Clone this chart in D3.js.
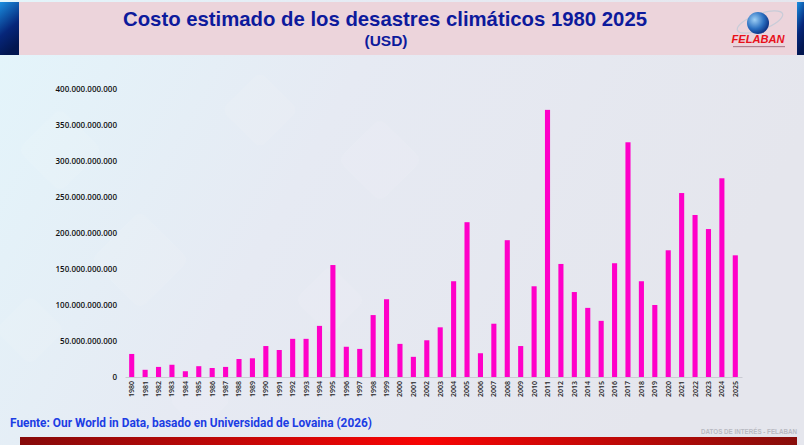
<!DOCTYPE html>
<html><head><meta charset="utf-8">
<script src="https://cdn.jsdelivr.net/npm/d3@7/dist/d3.min.js"></script>
<style>html,body{margin:0;padding:0;overflow:hidden;background:#e6e8ef}</style>
</head><body>
<svg id="c" width="804" height="445"></svg>
<script>
const years = d3.range(1980, 2026).map(String);
const costs = [32,10,14,17,8,15,12.5,14,25,26,43,37.5,53,53,71,155.5,42,39,86,108,46,28,51,69,133,215,33,74,190,43,126,371,157,118,96,78,158,326,133,100,176,255.5,225,205.5,276,169].map(v=>v*1e9);
const yTicks = [0,50e9,100e9,150e9,200e9,250e9,300e9,350e9,400e9];
const title = "Costo estimado de los desastres climáticos 1980 2025";
const subtitle = "(USD)";
const source = "Fuente: Our World in Data, basado en Universidad de Lovaina (2026)";
const footerTag = "DATOS DE INTERÉS - FELABAN";

const svg = d3.select("#c");
const defs = svg.append("defs");
const bg = defs.append("linearGradient").attr("id","bg").attr("x1","0").attr("y1","0").attr("x2","1").attr("y2","0.3");
bg.append("stop").attr("offset","0").attr("stop-color","#e3f5fb");
bg.append("stop").attr("offset","0.45").attr("stop-color","#e6eaf3");
bg.append("stop").attr("offset","1").attr("stop-color","#e5e6ed");
const red = defs.append("linearGradient").attr("id","red");
red.append("stop").attr("offset","0").attr("stop-color","#860a0a");
red.append("stop").attr("offset","0.52").attr("stop-color","#f80404");
red.append("stop").attr("offset","1").attr("stop-color","#880d0a");
const blue = defs.append("linearGradient").attr("id","blue").attr("x1","0").attr("y1","0").attr("x2","0.3").attr("y2","1");
blue.append("stop").attr("offset","0").attr("stop-color","#1a8fe0");
blue.append("stop").attr("offset","0.6").attr("stop-color","#06267a");
blue.append("stop").attr("offset","1").attr("stop-color","#021650");
const globe = defs.append("radialGradient").attr("id","globe").attr("cx","0.35").attr("cy","0.35").attr("r","0.7");
globe.append("stop").attr("offset","0").attr("stop-color","#9fd0f5");
globe.append("stop").attr("offset","0.6").attr("stop-color","#2a6fc0");
globe.append("stop").attr("offset","1").attr("stop-color","#0b2f80");

svg.append("rect").attr("width",804).attr("height",445).attr("fill","url(#bg)");
// faint diamond pattern
const diamonds = [[60,150,60],[140,260,70],[260,110,55],[30,330,50],[200,400,45],[380,160,60],[330,300,50]];
svg.selectAll("rect.dm").data(diamonds).join("rect").attr("class","dm")
  .attr("x",d=>d[0]-d[2]/2).attr("y",d=>d[1]-d[2]/2).attr("width",d=>d[2]).attr("height",d=>d[2])
  .attr("rx",8).attr("transform",d=>`rotate(45,${d[0]},${d[1]})`)
  .attr("fill","#ffffff").attr("opacity",0.08);

// header
svg.append("rect").attr("x",0).attr("y",2).attr("width",804).attr("height",53).attr("fill","#ecd4db");
svg.append("rect").attr("x",0).attr("y",2).attr("width",19).attr("height",53).attr("fill","url(#blue)");
svg.append("rect").attr("x",797).attr("y",2).attr("width",7).attr("height",53).attr("fill","url(#blue)");
svg.append("text").attr("x",385).attr("y",26).attr("text-anchor","middle")
  .attr("font-family","Liberation Sans, Arial, sans-serif").attr("font-weight","bold").attr("font-size",21)
  .attr("fill","#0d1a9c").attr("textLength",524).attr("lengthAdjust","spacingAndGlyphs").text(title);
svg.append("text").attr("x",386).attr("y",46).attr("text-anchor","middle")
  .attr("font-family","Liberation Sans, Arial, sans-serif").attr("font-weight","bold").attr("font-size",14)
  .attr("fill","#0d1a9c").attr("textLength",43).attr("lengthAdjust","spacingAndGlyphs").text(subtitle);
// logo
const lg = svg.append("g");
lg.append("ellipse").attr("cx",760).attr("cy",22).attr("rx",24).attr("ry",8).attr("transform","rotate(-20,760,22)")
  .attr("fill","none").attr("stroke","#c8ccd8").attr("stroke-width",1.2);
lg.append("circle").attr("cx",758).attr("cy",23).attr("r",11).attr("fill","url(#globe)");
lg.append("text").attr("x",758).attr("y",43).attr("text-anchor","middle").attr("font-family","Liberation Sans, Arial, sans-serif")
  .attr("font-weight","bold").attr("font-style","italic").attr("font-size",11).attr("fill","#e8101a")
  .attr("textLength",53).attr("lengthAdjust","spacingAndGlyphs").text("FELABAN");
lg.append("rect").attr("x",733).attr("y",46).attr("width",52).attr("height",1.2).attr("fill","#b08090");

// chart
const x = d3.scaleBand().domain(years).range([125,742]).paddingInner(0.62).paddingOuter(0.31);
const y = d3.scaleLinear().domain([0,400e9]).range([377,89]);
const fmt = v => d3.format(",")(v).replace(/,/g,".");

const yAxis = svg.append("g").attr("transform","translate(125,0)")
  .call(d3.axisLeft(y).tickValues(yTicks).tickFormat(fmt).tickSize(0).tickPadding(8));
yAxis.select(".domain").remove();
yAxis.selectAll("text").attr("font-family","Open Sans, sans-serif").attr("font-size",8).attr("font-weight",600).attr("fill","#111");

svg.selectAll("rect.bar").data(costs).join("rect").attr("class","bar")
  .attr("x",(d,i)=>x(years[i])).attr("width",x.bandwidth())
  .attr("y",d=>y(d)).attr("height",d=>y(0)-y(d)).attr("fill","#ff00c8");

const xAxis = svg.append("g").attr("transform","translate(0,377)")
  .call(d3.axisBottom(x).tickSize(0).tickPadding(3));
xAxis.select(".domain").attr("stroke","#c9cbd2").attr("stroke-width",1);
xAxis.selectAll(".tick text").attr("font-family","Open Sans, sans-serif").attr("font-size",7).attr("font-weight",600).attr("fill","#222")
  .attr("text-anchor","end").attr("transform","translate(0,4) rotate(-90)").attr("x",0).attr("y",0).attr("dy","0.35em");

// footer
svg.append("text").attr("x",10).attr("y",427).attr("font-family","Roboto, Arial, sans-serif").attr("font-weight","bold")
  .attr("font-size",12).attr("fill","#1c3de4").attr("textLength",362).attr("lengthAdjust","spacingAndGlyphs").text(source);
svg.append("text").attr("x",797).attr("y",434).attr("text-anchor","end").attr("font-family","Liberation Sans, Arial, sans-serif")
  .attr("font-weight","bold").attr("font-size",7.5).attr("fill","#b9bac2").attr("textLength",96).attr("lengthAdjust","spacingAndGlyphs").text(footerTag);
svg.append("rect").attr("x",20).attr("y",437).attr("width",777).attr("height",8).attr("fill","url(#red)");
</script>
</body></html>
